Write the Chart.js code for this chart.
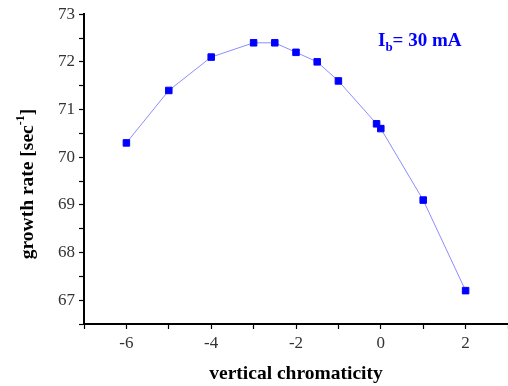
<!DOCTYPE html>
<html>
<head>
<meta charset="utf-8">
<script src="https://cdn.jsdelivr.net/npm/chart.js@4"></script>
<style>
  html, body { margin: 0; padding: 0; background: #fff; }
  #wrap { width: 508px; height: 386px; }
</style>
</head>
<body>
<div id="wrap"><canvas id="chart"></canvas></div>
<script>
// chromaticity vs growth rate
const chromaticity = [-6, -5, -4, -3, -2.5, -2, -1.5, -1, -0.1, 0, 1, 2];
const growthRate = [70.3, 71.4, 72.1, 72.4, 72.4, 72.2, 72.0, 71.6, 70.7, 70.6, 69.1, 67.2];
const xLabels = [-6, -4, -2, 0, 2];
const yLabels = [67, 68, 69, 70, 71, 72, 73];

const serif = '"Liberation Serif", "Times New Roman", serif';

// y title with superscript, plus the beam current note
const extraText = {
  id: 'extraText',
  afterDraw(chart) {
    const ctx = chart.ctx;
    ctx.save();

    // rotated y-axis title: growth rate [sec^-1]
    ctx.translate(28, 184);
    ctx.rotate(-Math.PI / 2);
    ctx.fillStyle = '#000';
    ctx.textBaseline = 'middle';
    const main = 'growth rate [sec';
    const sup = '-1';
    const tail = ']';
    ctx.font = 'bold 19.5px ' + serif;
    const wMain = ctx.measureText(main).width;
    const wTail = ctx.measureText(tail).width;
    ctx.font = 'bold 12px ' + serif;
    const wSup = ctx.measureText(sup).width;
    const x0 = -(wMain + wSup + wTail) / 2;
    ctx.font = 'bold 19.5px ' + serif;
    ctx.textAlign = 'left';
    ctx.fillText(main, x0, 0);
    ctx.font = 'bold 12px ' + serif;
    ctx.fillText(sup, x0 + wMain, -7);
    ctx.font = 'bold 19.5px ' + serif;
    ctx.fillText(tail, x0 + wMain + wSup, 0);
    ctx.restore();

    // I_b = 30 mA
    ctx.save();
    ctx.fillStyle = '#0000ff';
    ctx.textBaseline = 'alphabetic';
    ctx.textAlign = 'left';
    ctx.font = 'bold 19px ' + serif;
    let x = 378;
    const y = 46;
    ctx.fillText('I', x, y);
    x += ctx.measureText('I').width;
    ctx.font = 'bold 13px ' + serif;
    ctx.fillText('b', x, y + 5);
    x += ctx.measureText('b').width;
    ctx.font = 'bold 19px ' + serif;
    ctx.fillText('= 30 mA', x, y);
    ctx.restore();
  }
};

new Chart(document.getElementById('chart'), {
  type: 'scatter',
  data: {
    datasets: [{
      data: chromaticity.map((c, i) => ({ x: c, y: growthRate[i] })),
      showLine: true,
      borderColor: '#8c8cff',
      borderWidth: 1,
      pointStyle: 'rect',
      pointRadius: 4.6,
      pointBackgroundColor: '#0000ff',
      pointBorderColor: '#0000ff',
      pointBorderWidth: 1
    }]
  },
  options: {
    responsive: true,
    maintainAspectRatio: false,
    animation: false,
    layout: { autoPadding: false, padding: { top: 14, right: 0, left: 0, bottom: 0 } },
    plugins: {
      legend: { display: false },
      tooltip: { enabled: false }
    },
    scales: {
      x: {
        type: 'linear',
        min: -7,
        max: 3,
        afterFit(scale) {
          scale.height = 62;
          scale.paddingLeft = 0;
          scale.paddingRight = 0;
        },
        afterBuildTicks(scale) {
          scale.ticks = [];
          for (let v = -7; v <= 3; v++) scale.ticks.push({ value: v });
        },
        ticks: {
          color: '#333',
          font: { family: serif, size: 17 },
          padding: 4,
          maxRotation: 0,
          autoSkip: false,
          callback: v => xLabels.includes(v) ? String(v) : ''
        },
        grid: { drawOnChartArea: false, tickLength: 5, tickColor: '#000', tickWidth: 1.2 },
        border: { color: '#000', width: 2 },
        title: {
          display: true,
          text: 'vertical chromaticity',
          color: '#000',
          font: { family: serif, size: 19.5, weight: 'bold' },
          padding: { top: 2, bottom: 0 }
        }
      },
      y: {
        type: 'linear',
        min: 66.5,
        max: 73,
        afterFit(scale) { scale.width = 84; },
        afterBuildTicks(scale) {
          scale.ticks = [];
          for (let v = 66.5; v <= 73.001; v += 0.5) scale.ticks.push({ value: v });
        },
        ticks: {
          color: '#333',
          font: { family: serif, size: 17 },
          padding: 4,
          autoSkip: false,
          callback: v => yLabels.includes(v) ? String(v) : ''
        },
        grid: { drawOnChartArea: false, tickLength: 5, tickColor: '#000', tickWidth: 1.2 },
        border: { color: '#000', width: 2 }
      }
    }
  },
  plugins: [extraText]
});
</script>
</body>
</html>
